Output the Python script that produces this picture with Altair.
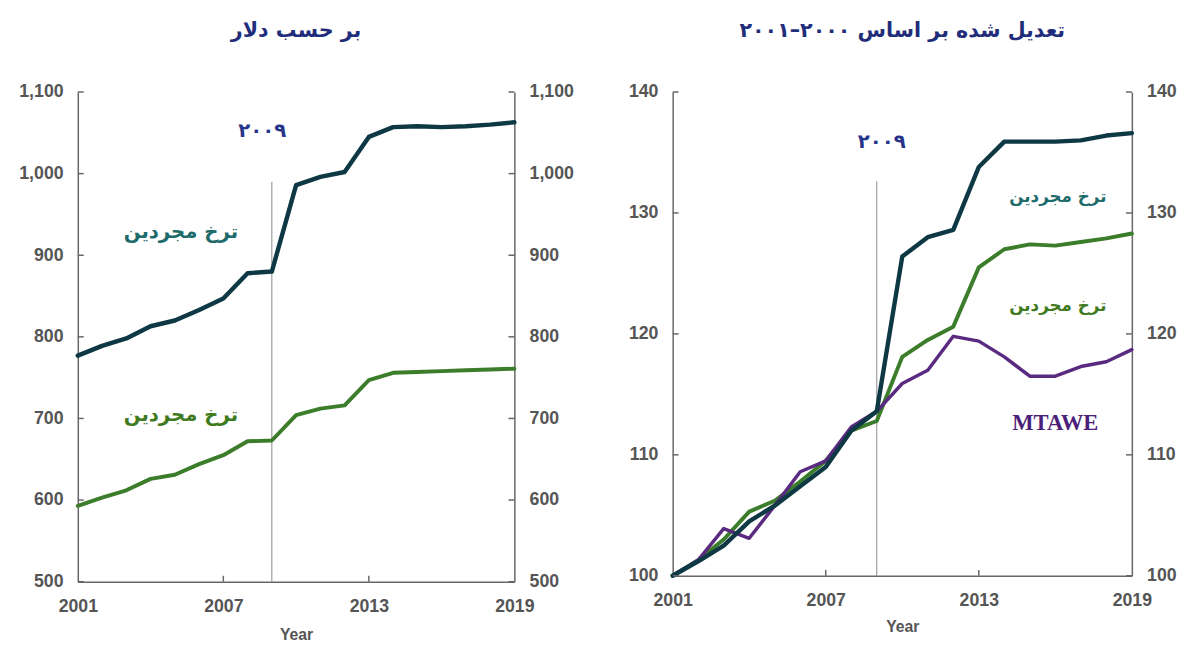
import altair as alt
import pandas as pd

years = list(range(2001, 2020))

# Left panel: in dollars
usd_dark = [777, 789, 798, 813, 820, 833, 847, 878, 880, 986, 996, 1002, 1045, 1057, 1058, 1057, 1058, 1060, 1063]
usd_green = [593, 603, 612, 626, 631, 644, 655, 672, 673, 704, 712, 716, 747, 756, 757, 758, 759, 760, 761]

# Right panel: indexed to 2000-2001
idx_dark = [100, 101.2, 102.5, 104.5, 105.8, 107.4, 109.0, 112.0, 113.6, 126.4, 128.0, 128.6, 133.8, 135.9, 135.9, 135.9, 136.0, 136.4, 136.6]
idx_green = [100, 101.3, 103.0, 105.3, 106.2, 107.8, 109.5, 112.0, 112.8, 118.1, 119.5, 120.6, 125.5, 127.0, 127.4, 127.3, 127.6, 127.9, 128.3]
idx_purple = [100, 101.3, 103.9, 103.1, 105.8, 108.6, 109.5, 112.3, 113.6, 115.9, 117.0, 119.8, 119.4, 118.1, 116.5, 116.5, 117.3, 117.7, 118.7]

left_title = "بر حسب دلار"
right_title = "تعدیل شده بر اساس ۲۰۰۰–۲۰۰۱"
label_single = "ترخ مجردین"
label_mtawe = "MTAWE"
label_year = "۲۰۰۹"

x_ticks = [2001, 2007, 2013, 2019]
left_y_ticks = [500, 600, 700, 800, 900, 1000, 1100]
right_y_ticks = [100, 110, 120, 130, 140]

DARK = "#0f3845"
GREEN = "#3b7d2a"
PURPLE = "#5a2a80"
AXIS = "#666666"
LABEL = "#555555"
TITLE_C = "#1f2d7a"

TICK_FONT = "Liberation Sans"
FA_FONT = "DejaVu Sans"


def panel(series, ydom, yticks, ylabel_fmt, rule_span, texts, title, W, H, title_pad):
    xscale = alt.Scale(domain=[2001, 2019], nice=False, zero=False)
    yscale = alt.Scale(domain=ydom, nice=False, zero=False)
    xt = 18.0 * 6 / W          # tick length in years (about 6 px)
    yt = (ydom[1] - ydom[0]) * 6 / H

    xaxis = alt.Axis(values=x_ticks, format="d", title="Year", ticks=False,
                     labelFont=TICK_FONT, labelFontWeight="bold", labelFontSize=18,
                     labelColor=LABEL, labelPadding=16, labelFlush=False, labelBound=False,
                     titleFont=TICK_FONT,
                     titleFontWeight="bold", titleFontSize=16, titleColor=LABEL,
                     titlePadding=title_pad, domainColor=AXIS, domainWidth=1.5, grid=False)

    def X(field):
        return alt.X(field, scale=xscale, axis=xaxis)

    line_layers = []
    for name, vals, color, width in series:
        df = pd.DataFrame({"year": years, "value": vals})
        line_layers.append(
            alt.Chart(df).mark_line(color=color, strokeWidth=width, strokeJoin="round",
                                    strokeCap="round").encode(
                x=X("year:Q"), y=alt.Y("value:Q", scale=yscale, axis=None)))

    yaxis_common = dict(format=ylabel_fmt, ticks=False, labelFont=TICK_FONT,
                        labelFontWeight="bold", labelFontSize=18, labelColor=LABEL,
                        labelPadding=15, domainColor=AXIS, domainWidth=1.5,
                        grid=False, title=None, values=yticks)

    tick_df = pd.DataFrame({"v": yticks, "year": [2001] * len(yticks), "x1": [2001 + xt] * len(yticks),
                            "r0": [2019 - xt] * len(yticks), "r1": [2019] * len(yticks)})
    left_ticks = alt.Chart(tick_df).mark_rule(color=AXIS, strokeWidth=1.5).encode(
        y=alt.Y("v:Q", scale=yscale, axis=alt.Axis(orient="left", **yaxis_common)),
        x=X("year:Q"), x2="x1:Q")
    right_ticks = alt.Chart(tick_df).mark_rule(color=AXIS, strokeWidth=1.5).encode(
        y=alt.Y("v:Q", scale=yscale, axis=alt.Axis(orient="right", **yaxis_common)),
        x=X("r0:Q"), x2="r1:Q")
    bottom_ticks = alt.Chart(pd.DataFrame({"year": [2007, 2013], "b0": [ydom[0]] * 2,
                                           "b1": [ydom[0] + yt] * 2})).mark_rule(
        color=AXIS, strokeWidth=1.5).encode(
        x=X("year:Q"),
        y=alt.Y("b0:Q", scale=yscale, axis=None), y2="b1:Q")

    rule = alt.Chart(pd.DataFrame({"year": [2009], "y0": [rule_span[0]], "y1": [rule_span[1]]})).mark_rule(
        color="#8a8a8a", strokeWidth=1).encode(
        x=X("year:Q"),
        y=alt.Y("y0:Q", scale=yscale, axis=None), y2="y1:Q")

    text_layers = []
    for (tx, ty, tt, tc, tf, ts) in texts:
        text_layers.append(
            alt.Chart(pd.DataFrame({"year": [tx], "value": [ty], "text": [tt]})).mark_text(
                font=tf, fontWeight="bold", fontSize=ts, color=tc).encode(
                x=X("year:Q"),
                y=alt.Y("value:Q", scale=yscale, axis=None),
                text="text:N"))

    return alt.layer(rule, *line_layers, left_ticks, right_ticks, bottom_ticks, *text_layers).resolve_scale(
        y="independent").properties(
        width=W, height=H,
        title=alt.TitleParams(title, font=FA_FONT, fontSize=21, fontWeight="bold",
                              color=TITLE_C, anchor="middle", offset=43))


left = panel(
    [("green", usd_green, GREEN, 4), ("dark", usd_dark, DARK, 4.5)],
    [500, 1100], left_y_ticks, ",d", (500, 990),
    [(2008.6, 1052, label_year, "#26358a", FA_FONT, 20),
     (2005.25, 928, label_single, "#1d6b6b", FA_FONT, 20),
     (2005.25, 704, label_single, "#3f7a1f", FA_FONT, 20)],
    left_title, 444, 498, 12)

right = panel(
    [("green", idx_green, GREEN, 4), ("purple", idx_purple, PURPLE, 3.5), ("dark", idx_dark, DARK, 4.5)],
    [100, 140], right_y_ticks, "d", (100, 132.6),
    [(2009.2, 135.9, label_year, "#26358a", FA_FONT, 20),
     (2016.1, 131.3, label_single, "#1d6b6b", FA_FONT, 17),
     (2016.1, 122.3, label_single, "#3f7a1f", FA_FONT, 17),
     (2016.0, 112.6, label_mtawe, "#4b1f7a", "Liberation Serif", 23)],
    right_title, 467, 492, 10)

chart = alt.hconcat(left, right, spacing=54).configure_view(stroke=None).properties(
    padding={"left": 10, "right": 5, "top": 7, "bottom": 0})

chart.save("out.html", embed_options={"renderer": "svg", "actions": False})
